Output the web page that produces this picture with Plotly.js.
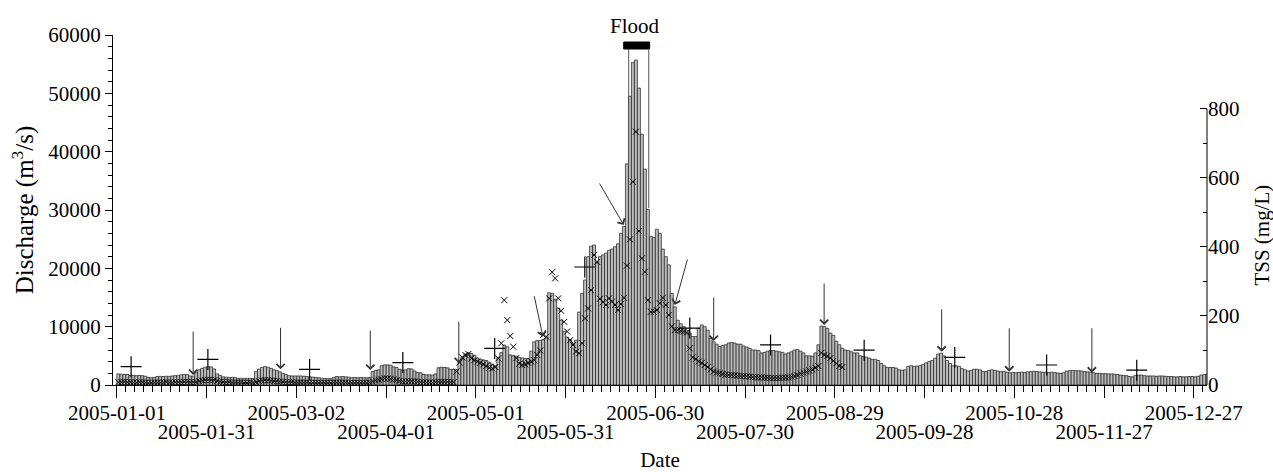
<!DOCTYPE html>
<html>
<head>
<meta charset="utf-8">
<script src="https://cdn.plot.ly/plotly-3.0.1.min.js"></script>
<style>
html,body{margin:0;padding:0;background:#fff;}
#chart{width:1273px;height:472px;}
</style>
</head>
<body>
<div id="chart"></div>
<script>
// ---------------- data ----------------
const startDate = '2005-01-01';

// daily discharge (m3/s), 2005-01-01 .. 2005-12-31
const discharge = [
1900,1850,1800,1800,1650,1650,1600,1650,1600,1500,
1300,1250,1300,1450,1480,1450,1500,1480,1550,1600,
1600,1750,1800,1780,1550,1520,2100,2600,2850,3050,
3150,3100,2750,1900,1650,1400,1350,1300,1300,1250,
1150,1150,1100,1150,1150,1100,2300,2700,3000,3150,
3050,2850,2600,2450,2250,2000,1800,1600,1550,1550,
1550,1550,1500,1450,1400,1350,1300,1250,1150,1100,
1100,1100,1300,1450,1400,1450,1400,1350,1250,1300,
1250,1300,1250,1250,1300,2300,2500,2600,3300,3450,
3450,3400,3100,3000,2700,2550,2600,2800,2750,2400,
2150,2100,1800,1750,1750,1700,1900,2950,3050,3000,
2950,2700,2650,2650,3900,4850,5300,5500,5400,5100,
4600,4400,4300,4200,3900,3600,3250,4750,5550,6850,
6550,5150,5000,4950,4700,4650,4550,4550,5800,7400,
7600,7650,7800,8000,15800,15700,14700,13200,11100,9200,
8200,7800,7150,7700,12500,15700,18000,22000,23800,24000,
20900,22000,22300,22600,23100,23300,23700,24200,26000,27200,
37900,49500,55300,55700,50900,43000,37000,30100,25500,25300,
26700,26000,23300,22000,20600,15700,13400,11100,10500,10000,
9400,8900,8300,8300,9700,10300,10000,9400,8000,7400,
7000,6600,6800,6900,7200,7300,7200,7000,7000,6700,
6500,6300,6000,6000,5900,5500,5600,5800,5900,5900,
5800,5700,5600,5300,5500,5700,6000,6100,5800,5500,
5000,5000,4950,5500,6900,10100,10000,9700,8900,8500,
7500,6900,6300,6000,5900,5700,5500,5500,5000,4900,
4800,4600,4400,4400,4200,3700,3300,3000,3000,3000,
2900,2600,2550,2600,3200,3300,3200,3250,3300,3500,
3800,4000,4200,4600,5300,5450,5000,4200,3700,3300,
3300,3200,2800,2600,2400,2500,2700,2700,2600,2300,
2300,2500,2600,2500,2400,2300,2300,2200,2100,2150,
2100,2150,2200,2150,2250,2300,2350,2300,2250,2200,
2200,2150,2200,2150,2050,2000,2100,2400,2450,2500,
2450,2450,2400,2300,2250,2200,2100,2000,2000,1950,
1950,1900,1900,1850,1800,1700,1650,1600,1450,1400,
1650,1700,1700,1600,1550,1550,1550,1500,1550,1550,
1500,1450,1450,1400,1400,1450,1400,1400,1450,1450,
1400,1500,1700,1800,1850
];

// daily TSS (mg/L), 2005-01-01 .. 2005-08-31
const tss = [
8,8,9,8,8,7,7,8,8,7,
6,6,7,7,7,7,8,7,7,8,
8,8,9,9,8,8,9,11,13,14,
15,15,14,12,10,9,8,8,7,7,
7,7,6,6,7,7,9,11,13,14,
14,13,12,11,10,9,8,8,8,7,
7,7,7,7,6,6,6,6,6,6,
6,6,7,7,7,7,7,6,6,6,
6,6,6,6,7,10,13,15,17,19,
19,18,16,14,12,10,10,11,11,10,
9,8,8,7,7,7,8,9,9,9,
9,8,8,39,65,80,87,90,77,72,
68,64,60,55,50,48,52,77,121,246,
188,142,111,78,62,58,60,64,68,72,
87,100,145,140,251,327,309,251,215,183,
155,130,116,97,92,121,193,222,275,377,
357,250,240,232,251,242,232,217,235,253,
346,422,589,734,446,367,328,246,212,212,
217,237,253,232,203,170,159,159,157,155,
152,106,80,75,68,64,58,52,45,39,
36,34,32,30,29,29,28,27,26,26,
25,24,23,23,22,22,21,21,20,20,
20,20,21,21,22,24,26,29,33,36,
39,42,45,50,55,93,87,84,78,70,
63,55,52
];

// "+" samples (TSS, mg/L)
const plusDates = ['2005-01-05 18:00','2005-01-31 10:00','2005-03-06 10:00','2005-04-06 14:00',
  '2005-05-07 07:00','2005-06-06 10:00','2005-07-11 12:00','2005-08-07 12:00',
  '2005-09-07 19:00','2005-10-08 02:00','2005-11-07 19:00','2005-12-07 22:00'];
const plusTSS = [53,74,45,65,106,342,165,116,101,80,58,43];

// arrows pointing at sampled discharge
const arrowDates = ['2005-01-26 12:00','2005-02-24 17:00','2005-03-26 17:00','2005-04-25 07:00',
  '2005-05-23 10:00','2005-06-19 10:00','2005-07-06 12:00','2005-07-19 12:00',
  '2005-08-25 10:00','2005-10-03 17:00','2005-10-26 07:00','2005-11-22 22:00'];
const arrowQ = [1700,2690,2570,3720,8280,27430,13710,7540,10290,5710,2280,2110];

// flood period
const floodStart = '2005-06-21 02:00';
const floodEnd = '2005-06-27 19:00';
const floodLabel = 'Flood';

// x tick labels (upper row / lower row)
const tickDatesUpper = ['2005-01-01','2005-03-02','2005-05-01','2005-06-30','2005-08-29','2005-10-28','2005-12-27'];
const tickDatesLower = ['2005-01-31','2005-04-01','2005-05-31','2005-07-30','2005-09-28','2005-11-27'];

// ---------------- build ----------------
const DAY = 86400000;
const t0 = Date.UTC(2005, 0, 1);
function iso(ms) { return new Date(ms).toISOString().slice(0, 19).replace('T', ' '); }
const dayX = discharge.map((_, i) => iso(t0 + i * DAY + DAY / 2));
const tssX = tss.map((_, i) => iso(t0 + i * DAY + DAY / 2));
const xRange = [iso(t0 - 1.3 * DAY), iso(t0 + 364.4 * DAY)];

const FONT = 'Liberation Serif, Times New Roman, serif';

const traces = [
  {
    type: 'bar', x: dayX, y: discharge, width: DAY,
    marker: {color: '#bdbdbd', line: {color: '#1e1e1e', width: 0.7}},
    hoverinfo: 'x+y', name: 'Discharge'
  },
  {
    type: 'scatter', mode: 'markers', x: tssX, y: tss, yaxis: 'y2',
    marker: {symbol: 'x-thin', size: 6, color: '#000', line: {color: '#000', width: 1}},
    name: 'TSS'
  },
  {
    type: 'scatter', mode: 'markers', x: plusDates, y: plusTSS, yaxis: 'y2',
    marker: {symbol: 'cross-thin', size: 15, color: '#000', line: {color: '#000', width: 1.2}},
    name: 'TSS samples'
  },
  {
    // carrier for the lower row of date labels
    type: 'scatter', mode: 'markers', x: [tickDatesLower[0]], y: [0], xaxis: 'x2',
    marker: {opacity: 0, size: 1}, hoverinfo: 'skip', showlegend: false
  }
];

const annotations = arrowDates.map((d, i) => {
  const ax = [0,0,0,0,-9,-25,13,0,0,0,0,0][i];
  const ay = [-45,-43,-41,-43,-42,-43,-47,-45,-43,-44,-45,-46][i];
  return {x: d, y: arrowQ[i], xref: 'x', yref: 'y', text: '', showarrow: true,
    ax: ax, ay: ay, axref: 'pixel', ayref: 'pixel',
    arrowhead: 4, arrowsize: 1.6, arrowwidth: 1, arrowcolor: '#333', standoff: 0};
});
annotations.push({
  x: iso(Date.UTC(2005, 5, 23, 2)), y: 1.026, xref: 'x', yref: 'paper', text: floodLabel,
  showarrow: false, xanchor: 'center', yanchor: 'middle', font: {family: FONT, size: 21, color: '#000'}
});
annotations.push({
  x: 1.05, y: 435, xref: 'paper', yref: 'y2', text: 'TSS (mg/L)', textangle: -90,
  showarrow: false, xanchor: 'center', yanchor: 'middle', font: {family: FONT, size: 21, color: '#000'}
});

const shapes = [
  // right axis line (0-800 only)
  {type: 'line', xref: 'paper', yref: 'y2', x0: 1, x1: 1, y0: 0, y1: 800, line: {color: '#000', width: 1}},
  // flood bar
  {type: 'rect', xref: 'x', yref: 'y', x0: iso(Date.UTC(2005,5,19,10)), x1: iso(Date.UTC(2005,5,28,2)),
    y0: 57600, y1: 58800, fillcolor: '#000', line: {color: '#000', width: 1}},
  {type: 'line', xref: 'x', yref: 'y', x0: floodStart, x1: floodStart, y0: 57600, y1: 38060,
    line: {color: '#555', width: 1}},
  {type: 'line', xref: 'x', yref: 'y', x0: floodEnd, x1: floodEnd, y0: 57600, y1: 30340,
    line: {color: '#555', width: 1}}
];

const tickCommon = {
  ticks: 'outside', ticklen: 12, tickwidth: 1, tickcolor: '#000',
  showgrid: false, zeroline: false, tickangle: 0,
  tickfont: {family: FONT, size: 21, color: '#000'}
};

const layout = {
  width: 1273, height: 472,
  margin: {l: 113, r: 66, t: 35, b: 87, pad: 0},
  paper_bgcolor: '#fff', plot_bgcolor: '#fff',
  showlegend: false,
  bargap: 0,
  font: {family: FONT, size: 21, color: '#000'},
  xaxis: Object.assign({}, tickCommon, {
    type: 'date', range: xRange,
    tickmode: 'array', tickvals: tickDatesUpper, ticktext: tickDatesUpper,
    ticklabelstandoff: -3,
    minor: {tickmode: 'linear', tick0: startDate, dtick: 3 * DAY, ticks: 'outside', ticklen: 6, tickwidth: 1, tickcolor: '#000'},
    showline: true, linecolor: '#000', linewidth: 1,
    title: {text: 'Date', font: {family: FONT, size: 21, color: '#000'}, standoff: 40},
    automargin: false
  }),
  xaxis2: Object.assign({}, tickCommon, {
    type: 'date', range: xRange, overlaying: 'x', anchor: 'y', side: 'bottom',
    tickmode: 'array', tickvals: tickDatesLower, ticktext: tickDatesLower,
    ticklabelstandoff: 16,
    showline: false,
    automargin: false
  }),
  yaxis: {
    range: [0, 60000],
    tickmode: 'linear', tick0: 0, dtick: 10000, tickformat: 'd',
    ticks: 'outside', ticklen: 7, tickwidth: 1, tickcolor: '#000',
    minor: {dtick: 2000, ticks: 'outside', ticklen: 4, tickwidth: 1, tickcolor: '#000'},
    showline: true, linecolor: '#000', linewidth: 1,
    showgrid: false, zeroline: false,
    tickfont: {family: FONT, size: 21, color: '#000'},
    title: {text: 'Discharge (m<sup>3</sup>/s)', font: {family: FONT, size: 25, color: '#000'}, standoff: 7},
    automargin: false
  },
  yaxis2: {
    overlaying: 'y', side: 'right', anchor: 'x',
    range: [0, 1014.3],
    tickmode: 'array', tickvals: [0, 200, 400, 600, 800],
    ticks: 'inside', ticklen: 7, tickwidth: 1, tickcolor: '#000',
    minor: {tickmode: 'array', tickvals: [100, 300, 500, 700], ticks: 'inside', ticklen: 4, tickwidth: 1, tickcolor: '#000'},
    showline: false, showgrid: false, zeroline: false,
    tickfont: {family: FONT, size: 21, color: '#000'},
    automargin: false
  },
  shapes: shapes,
  annotations: annotations
};

Plotly.newPlot('chart', traces, layout, {displayModeBar: false, staticPlot: true});
</script>
</body>
</html>
